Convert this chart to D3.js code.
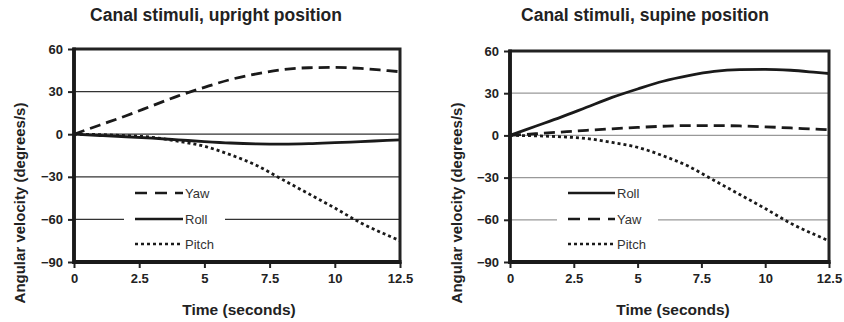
<!DOCTYPE html>
<html>
<head>
<meta charset="utf-8">
<script src="https://cdn.jsdelivr.net/npm/d3@7"></script>
<style>
  body { margin: 0; background: #fff; }
  svg { display: block; font-family: 'Liberation Sans', Arial, sans-serif; }
</style>
</head>
<body>
<svg id="chart" width="844" height="322"></svg>
<script>
// time samples (seconds)
const times = [0, 1, 2, 3, 4, 5, 6, 7, 8, 9, 10, 11, 12, 12.5];

// upright position
const uprightYaw = [0, 6.5, 13, 20, 27, 33, 38.5, 42.5, 45.5, 46.8, 47, 46.3, 44.8, 44];
const uprightRoll = [0, -0.9, -1.8, -2.8, -4, -5.2, -6.2, -6.8, -7, -6.7, -6, -5.2, -4.4, -4];
const uprightPitch = [0, -0.3, -1, -2.2, -5, -8.5, -14.5, -22, -32, -42, -52, -62.5, -71, -75];

// supine position
const supineRoll = [0, 6.5, 13, 20, 27, 33, 38.5, 42.5, 45.5, 46.8, 47, 46.3, 44.8, 44];
const supineYaw = [0, 1.2, 2.4, 3.6, 4.7, 5.7, 6.5, 7, 7, 6.7, 6.1, 5.3, 4.4, 4];
const supinePitch = [0, -0.3, -1, -2.2, -5, -8.5, -14.5, -22, -32, -42, -52, -62.5, -71, -75];

const xTicks = [0, 2.5, 5, 7.5, 10, 12.5];
const yTicks = [60, 30, 0, -30, -60, -90];
const gridValues = [30, 0, -30, -60];

const styles = {
  Yaw: { dash: '11,6', legendDash: '12,8' },
  Roll: { dash: null, legendDash: null },
  Pitch: { dash: '3,3', legendDash: '3,3' },
};

const svg = d3.select('#chart');
const font = "'Liberation Sans', Arial, sans-serif";

function drawPanel(opts) {
  const g = svg.append('g');
  const x = d3.scaleLinear().domain([0, 12.5]).range([opts.x0, opts.x1]);
  const y = d3.scaleLinear().domain([-90, 60]).range([262, opts.top]);

  // title
  g.append('text')
    .attr('x', opts.titleX).attr('y', 21)
    .attr('text-anchor', 'middle')
    .style('font-size', '17.5px').style('font-weight', 'bold').style('fill', '#222')
    .text(opts.title);

  // grid
  g.selectAll('.grid').data(gridValues).enter().append('line')
    .attr('x1', opts.x0).attr('x2', opts.x1)
    .attr('y1', (d) => y(d)).attr('y2', (d) => y(d))
    .attr('stroke', opts.gridColor).attr('stroke-width', 1.2);

  // y axis
  const yAxis = d3.axisLeft(y).tickValues(yTicks).tickSize(6).tickPadding(5).tickFormat(d3.format('d'));
  const ya = g.append('g').attr('transform', `translate(${opts.x0},0)`).call(yAxis);
  ya.select('.domain').remove();
  ya.selectAll('line').attr('stroke', '#222').attr('stroke-width', 2);
  ya.selectAll('text').style('font-size', '13px').style('font-weight', 'bold').style('fill', '#222')
    .style('font-family', font);

  // x axis
  const xAxis = d3.axisBottom(x).tickValues(xTicks).tickSize(6).tickPadding(6).tickFormat((d) => String(d));
  const xa = g.append('g').attr('transform', 'translate(0,262)').call(xAxis);
  xa.select('.domain').remove();
  xa.selectAll('line').attr('stroke', '#222').attr('stroke-width', 2);
  xa.selectAll('text').style('font-size', '13px').style('font-weight', 'bold').style('fill', '#222')
    .style('font-family', font);

  // legend background covers grid
  g.append('rect')
    .attr('x', opts.legend.bgX0).attr('y', 183)
    .attr('width', opts.legend.bgX1 - opts.legend.bgX0).attr('height', 70)
    .attr('fill', '#fff');

  // lines
  const line = d3.line()
    .x((d) => x(d[0]))
    .y((d) => y(d[1]))
    .curve(d3.curveMonotoneX);

  opts.series.forEach((s) => {
    const pts = times.map((t, i) => [t, s.values[i]]);
    g.append('path')
      .attr('d', line(pts))
      .attr('fill', 'none')
      .attr('stroke', '#1a1a1a')
      .attr('stroke-width', 2.8)
      .attr('stroke-dasharray', styles[s.label].dash);
  });

  // frame
  g.append('rect')
    .attr('x', opts.x0).attr('y', y(60))
    .attr('width', opts.x1 - opts.x0).attr('height', y(-90) - y(60))
    .attr('fill', 'none').attr('stroke', '#222').attr('stroke-width', 3);
  g.append('line')
    .attr('x1', opts.x0).attr('x2', opts.x0).attr('y1', y(60) - 1.5).attr('y2', y(-90) + 2)
    .attr('stroke', '#1a1a1a').attr('stroke-width', 3.8);
  g.append('line')
    .attr('x1', opts.x0).attr('x2', opts.x1 + 1.5).attr('y1', y(-90)).attr('y2', y(-90))
    .attr('stroke', '#1a1a1a').attr('stroke-width', 3.8);

  // legend entries
  const rowsY = [193, 219, 244];
  opts.legendOrder.forEach((name, i) => {
    const ly = rowsY[i];
    g.append('line')
      .attr('x1', opts.legend.lx0).attr('x2', opts.legend.lx1)
      .attr('y1', ly).attr('y2', ly)
      .attr('stroke', '#1a1a1a').attr('stroke-width', 2.6)
      .attr('stroke-dasharray', styles[name].legendDash);
    g.append('text')
      .attr('x', opts.legend.lx1 + 2).attr('y', ly + 5)
      .style('font-size', '13px').style('fill', '#333')
      .text(name);
  });

  // axis labels
  g.append('text')
    .attr('transform', `translate(${opts.yLabelX},203) rotate(-90)`)
    .attr('text-anchor', 'middle')
    .style('font-size', '15px').style('font-weight', 'bold').style('fill', '#222')
    .text('Angular velocity (degrees/s)');
  g.append('text')
    .attr('x', opts.xLabelX).attr('y', 315)
    .attr('text-anchor', 'middle')
    .style('font-size', '15.5px').style('font-weight', 'bold').style('fill', '#222')
    .text('Time (seconds)');
}

drawPanel({
  title: 'Canal stimuli, upright position',
  titleX: 216, x0: 74, x1: 400, top: 49,
  gridColor: '#333', yLabelX: 25, xLabelX: 239,
  series: [
    { label: 'Yaw', values: uprightYaw },
    { label: 'Roll', values: uprightRoll },
    { label: 'Pitch', values: uprightPitch },
  ],
  legendOrder: ['Yaw', 'Roll', 'Pitch'],
  legend: { bgX0: 124, bgX1: 225, lx0: 135, lx1: 183 },
});

drawPanel({
  title: 'Canal stimuli, supine position',
  titleX: 645, x0: 510, x1: 829, top: 51,
  gridColor: '#999', yLabelX: 462, xLabelX: 673,
  series: [
    { label: 'Roll', values: supineRoll },
    { label: 'Yaw', values: supineYaw },
    { label: 'Pitch', values: supinePitch },
  ],
  legendOrder: ['Roll', 'Yaw', 'Pitch'],
  legend: { bgX0: 557, bgX1: 658, lx0: 568, lx1: 615 },
});
</script>
</body>
</html>
